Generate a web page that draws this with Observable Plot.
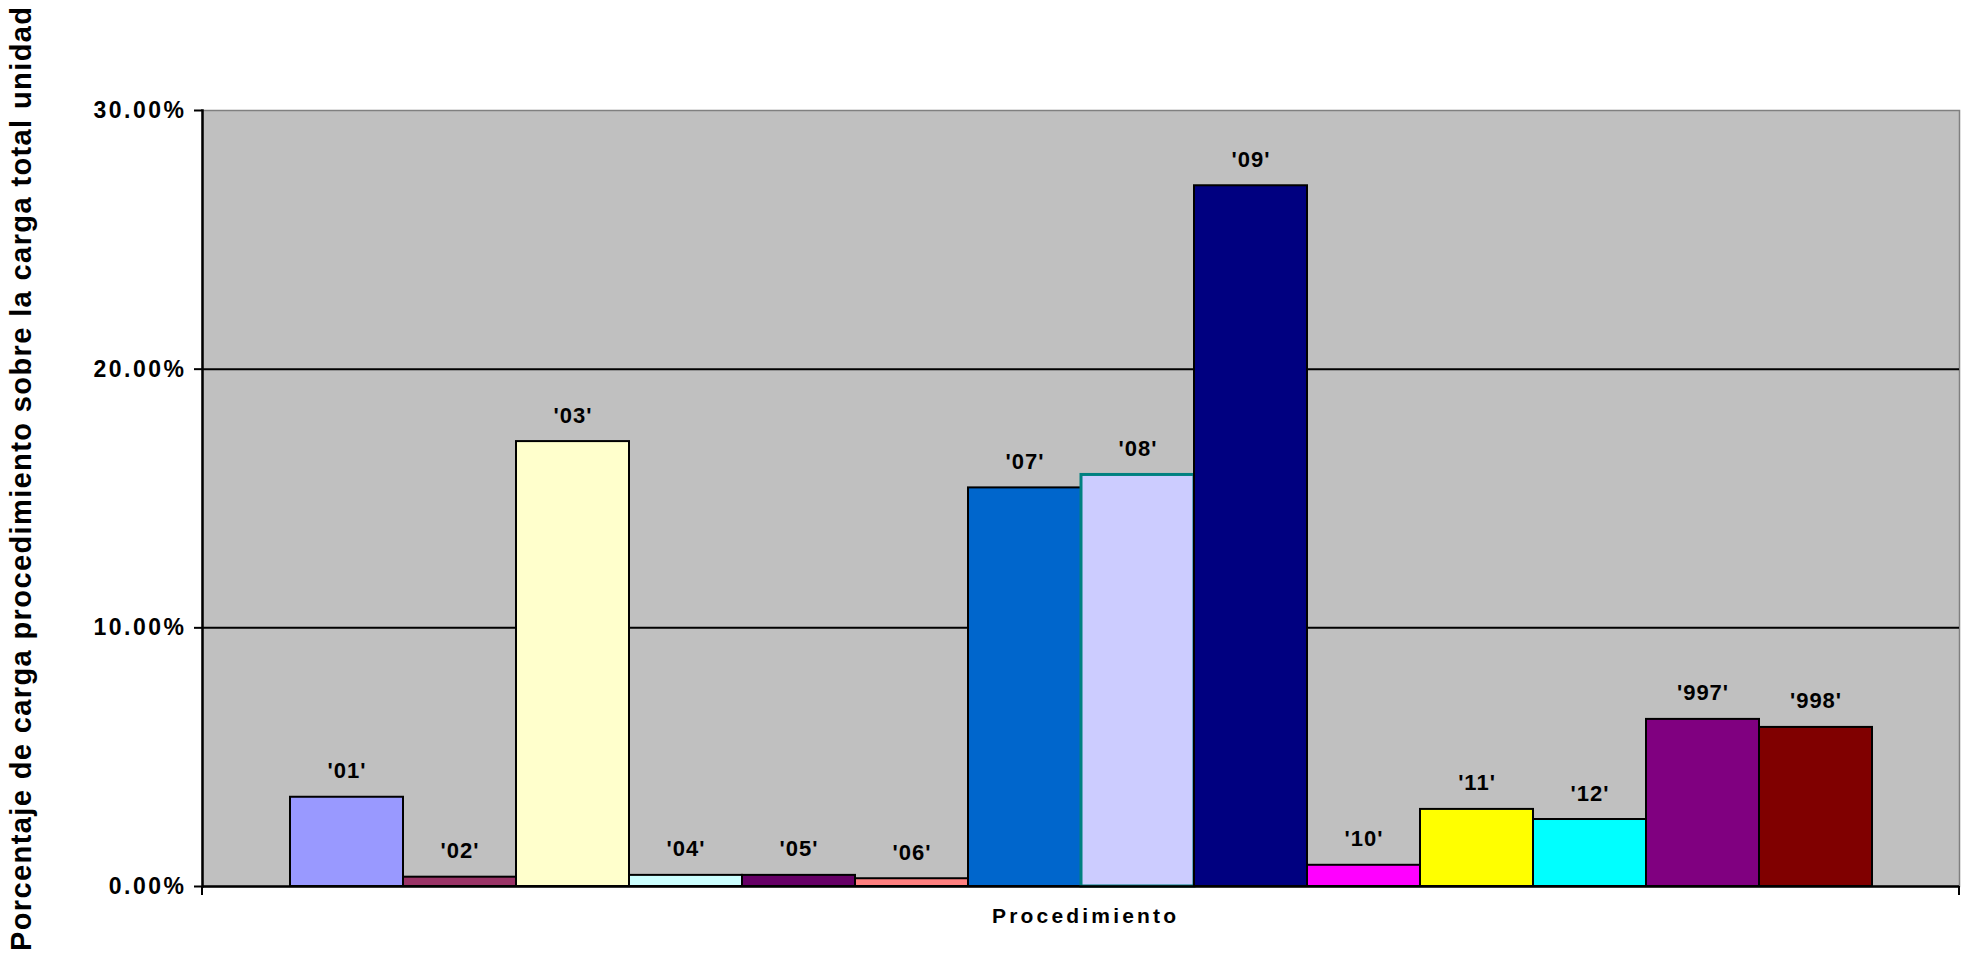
<!DOCTYPE html>
<html>
<head>
<meta charset="utf-8">
<script src="https://cdn.jsdelivr.net/npm/d3@7"></script>
<script src="https://cdn.jsdelivr.net/npm/@observablehq/plot@0.6"></script>
<style>
  html, body { margin: 0; padding: 0; background: #ffffff; }
  #chart svg text { font-family: "Liberation Sans", Arial, sans-serif; font-weight: bold; }
</style>
</head>
<body>
<div id="chart"></div>
<script>
// ---- data ----
const categories = ["'01'", "'02'", "'03'", "'04'", "'05'", "'06'", "'07'", "'08'", "'09'", "'10'", "'11'", "'12'", "'997'", "'998'"];
const values = [0.0345, 0.0036, 0.1720, 0.0043, 0.0043, 0.0030, 0.1541, 0.1591, 0.2709, 0.0082, 0.0298, 0.0259, 0.0646, 0.0615];
const fillColors = ["#9999FF", "#993366", "#FFFFCC", "#CCFFFF", "#660066", "#FF8080", "#0066CC", "#CCCCFF", "#000080", "#FF00FF", "#FFFF00", "#00FFFF", "#800080", "#800000"];
const strokeColors = ["#000000", "#000000", "#000000", "#000000", "#000000", "#000000", "#000000", "#008080", "#000000", "#000000", "#000000", "#000000", "#000000", "#000000"];
const yTicks = [0, 0.10, 0.20, 0.30];
const gridTicks = [0.10, 0.20];
const yTitle = "Porcentaje de carga procedimiento sobre la carga total unidad";
const xTitle = "Procedimiento";

const data = categories.map((c, i) => ({cat: c, value: values[i], fill: fillColors[i], stroke: strokeColors[i]}));

const W = 1962, H = 954;
const plot = Plot.plot({
  width: W,
  height: H,
  marginTop: 110,
  marginBottom: 68,
  marginLeft: 202,
  marginRight: 3,
  style: {background: "#ffffff", fontFamily: "'Liberation Sans', Arial, sans-serif", color: "#000"},
  x: {domain: categories, paddingInner: 0, paddingOuter: 0.75, axis: null},
  y: {domain: [0, 0.30], axis: null},
  color: {type: "identity"},
  marks: [
    Plot.frame({fill: "#C0C0C0", stroke: "#808080", strokeWidth: 1.5}),
    Plot.ruleY(gridTicks, {stroke: "#000000", strokeWidth: 2}),
    Plot.barY(data, {x: "cat", y: "value", fill: "fill", stroke: "stroke", strokeWidth: d => d.stroke === "#000000" ? 2 : 3}),
    Plot.ruleY([0], {stroke: "#000000", strokeWidth: 2.5}),
    Plot.frame({anchor: "left", stroke: "#000000", strokeWidth: 2.5}),
    Plot.axisY({ticks: yTicks, tickFormat: d3.format(".2%"), tickSize: 8, tickPadding: 8, fontSize: 23, fontWeight: "bold", label: null, stroke: "#000", strokeWidth: 2}),
    Plot.text(data, {x: "cat", y: "value", text: "cat", dy: -19, lineAnchor: "bottom", fontSize: 22, fontWeight: "bold", fill: "#000"})
  ]
});

document.getElementById("chart").appendChild(plot);

const svg = d3.select(plot);
// letter spacing like the reference's spread-out text
svg.selectAll("g[aria-label='y-axis tick label'] text").style("letter-spacing", "2.5px");
svg.selectAll("g[aria-label='text'] text").style("letter-spacing", "1px");

// category axis end ticks
const xr = plot.scale("x").range;
const y0 = plot.scale("y").apply(0);
svg.append("g").selectAll("line").data(xr).join("line")
  .attr("x1", d => d).attr("x2", d => d)
  .attr("y1", y0).attr("y2", y0 + 9)
  .attr("stroke", "#000").attr("stroke-width", 2);

// axis titles
svg.append("text")
  .attr("transform", "translate(31,479) rotate(-90)")
  .attr("text-anchor", "middle")
  .attr("font-size", 29)
  .attr("font-weight", "bold")
  .attr("fill", "#000")
  .attr("textLength", 944)
  .attr("lengthAdjust", "spacing")
  .text(yTitle);

svg.append("text")
  .attr("x", 1084)
  .attr("y", 923)
  .attr("text-anchor", "middle")
  .attr("font-size", 21)
  .attr("font-weight", "bold")
  .attr("fill", "#000")
  .attr("textLength", 184)
  .attr("lengthAdjust", "spacing")
  .text(xTitle);
</script>
</body>
</html>
